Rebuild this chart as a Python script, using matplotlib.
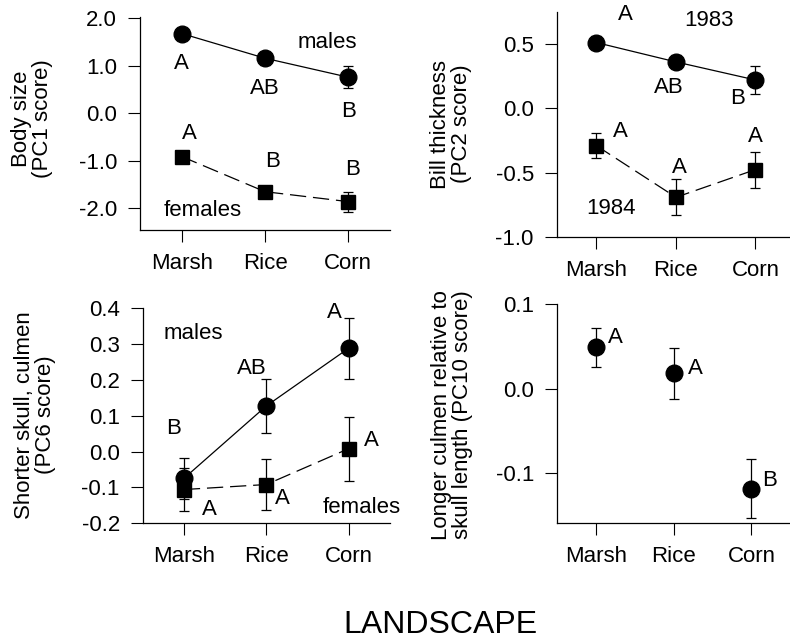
import numpy as np
import matplotlib
matplotlib.use("Agg")
import matplotlib.pyplot as plt

plt.rcParams["font.family"] = ["Liberation Sans", "DejaVu Sans"]
plt.rcParams["font.size"] = 16
plt.rcParams["axes.unicode_minus"] = False

landscapes = ["Marsh", "Rice", "Corn"]
x = np.arange(1, 4)

# PC1 body size
pc1_males = [1.68, 1.16, 0.76]
pc1_males_err = [0.10, 0.14, 0.23]
pc1_females = [-0.91, -1.65, -1.86]
pc1_females_err = [0.05, 0.08, 0.21]

# PC2 bill thickness
pc2_1983 = [0.51, 0.36, 0.22]
pc2_1983_err = [0.05, 0.05, 0.105]
pc2_1984 = [-0.29, -0.69, -0.475]
pc2_1984_err = [0.095, 0.14, 0.14]

# PC6 shorter skull, culmen
pc6_males = [-0.075, 0.127, 0.288]
pc6_males_err = [0.057, 0.075, 0.085]
pc6_females = [-0.106, -0.092, 0.008]
pc6_females_err = [0.06, 0.07, 0.089]

# PC10 longer culmen relative to skull length
pc10 = [0.049, 0.018, -0.118]
pc10_err = [0.023, 0.030, 0.035]


def style_axes(ax, ylim, yticks, ylabel, label_x, label_y):
    ax.set_xlim(0.5, 3.5)
    ax.set_ylim(*ylim)
    ax.set_xticks(x)
    ax.set_xticklabels(landscapes)
    ax.set_yticks(yticks)
    ax.set_yticklabels([f"{v:.1f}" for v in yticks])
    for side in ("top", "right"):
        ax.spines[side].set_visible(False)
    for side in ("left", "bottom"):
        ax.spines[side].set_linewidth(0.9)
    ax.tick_params(direction="out", length=8.5, width=0.8, pad=8, labelsize=16)
    ax.text(label_x, label_y, ylabel, transform=ax.transAxes, rotation=90,
            ha="center", va="center", multialignment="center", linespacing=1.0,
            fontsize=16)


def series(ax, y, err, marker, ms, dashed):
    ax.errorbar(x, y, yerr=err, color="black", marker=marker, markersize=ms,
                linewidth=0.9, elinewidth=0.9, capsize=3.8, capthick=0.9,
                linestyle=(0, (13, 5.5)) if dashed else "-")


fig = plt.figure(figsize=(7.9, 6.43), dpi=100)

# top left: body size
ax1 = fig.add_axes([0.1772, 0.6423, 0.3165, 0.3317])
series(ax1, pc1_males, pc1_males_err, "o", 12, False)
series(ax1, pc1_females, pc1_females_err, "s", 10, True)
style_axes(ax1, (-2.457, 2.034), [-2.0, -1.0, 0.0, 1.0, 2.0],
           "Body size\n(PC1 score)", -0.432, 0.52)
for tx, ty, s in [(1, 1.05, "A"), (2, 0.53, "AB"), (3, 0.03, "B"),
                  (1.09, -0.42, "A"), (2.09, -1.02, "B"), (3.05, -1.19, "B"),
                  (2.75, 1.49, "males"), (1.25, -2.04, "females")]:
    ax1.text(tx, ty, s, ha="center", va="center")

# top right: bill thickness
ax2 = fig.add_axes([0.7047, 0.6310, 0.3019, 0.3509])
series(ax2, pc2_1983, pc2_1983_err, "o", 12, False)
series(ax2, pc2_1984, pc2_1984_err, "s", 10, True)
style_axes(ax2, (-1.0, 0.75), [-1.0, -0.5, 0.0, 0.5],
           "Bill thickness\n(PC2 score)", -0.444, 0.502)
for tx, ty, s in [(1.36, 0.73, "A"), (2.42, 0.68, "1983"), (1.91, 0.16, "AB"),
                  (2.77, 0.08, "B"), (1.30, -0.18, "A"), (2.04, -0.46, "A"),
                  (3.0, -0.22, "A"), (1.18, -0.78, "1984")]:
    ax2.text(tx, ty, s, ha="center", va="center")

# bottom left: shorter skull, culmen
ax3 = fig.add_axes([0.1806, 0.1862, 0.3130, 0.3348])
series(ax3, pc6_males, pc6_males_err, "o", 12, False)
series(ax3, pc6_females, pc6_females_err, "s", 10, True)
style_axes(ax3, (-0.2, 0.4), [-0.2, -0.1, 0.0, 0.1, 0.2, 0.3, 0.4],
           "Shorter skull, culmen\n(PC6 score)", -0.435, 0.503)
for tx, ty, s in [(0.875, 0.064, "B"), (1.83, 0.232, "AB"), (2.83, 0.388, "A"),
                  (1.31, -0.162, "A"), (2.2, -0.13, "A"), (3.28, 0.032, "A"),
                  (1.11, 0.328, "males"), (3.16, -0.157, "females")]:
    ax3.text(tx, ty, s, ha="center", va="center")

# bottom right: longer culmen relative to skull length
ax4 = fig.add_axes([0.7054, 0.1862, 0.2949, 0.3410])
ax4.errorbar(x, pc10, yerr=pc10_err, color="black", marker="o", markersize=12,
             linestyle="none", elinewidth=0.9, capsize=3.8, capthick=0.9)
style_axes(ax4, (-0.159, 0.1), [-0.1, 0.0, 0.1],
           "Longer culmen relative to\nskull length (PC10 score)", -0.452, 0.494)
for tx, ty, s in [(1.25, 0.06, "A"), (2.28, 0.024, "A"), (3.23, -0.108, "B")]:
    ax4.text(tx, ty, s, ha="center", va="center")

fig.text(440 / 790, 1 - 625 / 643, "LANDSCAPE", ha="center", va="center", fontsize=23)

fig.savefig("out.png", dpi=100)
